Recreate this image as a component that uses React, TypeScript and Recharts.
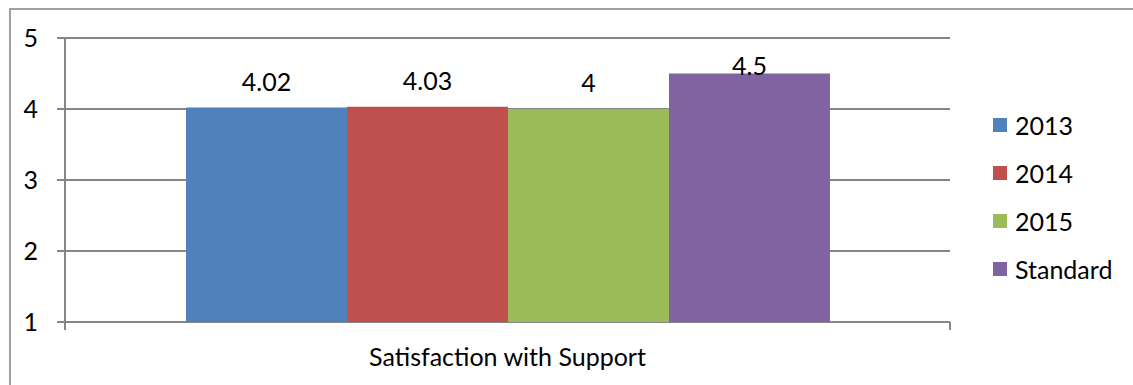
import React from 'react';
import { BarChart, Bar, XAxis, YAxis, CartesianGrid, LabelList } from 'recharts';

const categories = ['Satisfaction with Support'];
const seriesNames = ['2013', '2014', '2015', 'Standard'];
const seriesValues = [[4.02], [4.03], [4], [4.5]];
const seriesColors = ['#4f81bd', '#c0504d', '#9bbb59', '#8064a2'];
const yTicks = [1, 2, 3, 4, 5];

const data = categories.map((name, i) => {
    const row: Record<string, string | number> = { name };
    seriesNames.forEach((s, j) => {
        row[s] = seriesValues[j][i];
    });
    return row;
});

const FONT = 'Lato, "Open Sans", sans-serif';
const FONT_SIZE = 25;
const GRAY = '#868686';
const PLOT_TOP = 38;

// category label plus the short tick marks at both band edges
const CategoryTick = (props: any) => {
    const { x, y, payload } = props;
    const half = payload.offset ?? 0;
    return (
        <g>
            <line x1={x - half} x2={x - half} y1={y} y2={y + 8} stroke={GRAY} strokeWidth={2} />
            <line x1={x + half} x2={x + half} y1={y} y2={y + 8} stroke={GRAY} strokeWidth={2} />
            <text x={x} y={y + 34} textAnchor="middle" dominantBaseline="central" fontSize={FONT_SIZE} fontFamily={FONT} fill="#000">
                {payload.value}
            </text>
        </g>
    );
};

// value labels sit above the bar, but never closer to the plot top than one line
const ValueLabel = (props: any) => {
    const { x, y, width, value } = props;
    const cy = Math.max(y - 27, PLOT_TOP + 27);
    return (
        <text x={x + width / 2} y={cy} textAnchor="middle" dominantBaseline="central" fontSize={FONT_SIZE} fontFamily={FONT} fill="#000">
            {value}
        </text>
    );
};

export default function App() {
    return (
        <div style={{ position: 'absolute', left: 0, top: 0, width: 1133, height: 385, overflow: 'hidden', background: '#fff' }}>
            <div style={{ position: 'absolute', left: 9, top: 8, width: 1200, height: 400, border: '2px solid #a0a0a0' }} />
            <div style={{ position: 'absolute', left: 0, top: 0 }}>
                <BarChart width={1133} height={385} data={data} margin={{ top: PLOT_TOP, right: 183, bottom: 0, left: 0 }} barCategoryGap={121} barGap={0}>
                    <CartesianGrid vertical={false} stroke={GRAY} strokeWidth={2} />
                    <XAxis dataKey="name" height={63} axisLine={false} tickLine={false} tickSize={0} tickMargin={0} tick={<CategoryTick />} />
                    <YAxis
                        domain={[1, 5]}
                        ticks={yTicks}
                        width={65}
                        tickSize={8}
                        tickMargin={19}
                        axisLine={{ stroke: GRAY, strokeWidth: 2 }}
                        tickLine={{ stroke: GRAY, strokeWidth: 2 }}
                        tick={{ fill: '#000', fontSize: FONT_SIZE, fontFamily: FONT }}
                    />
                    {seriesNames.map((s, i) => (
                        <Bar key={s} dataKey={s} fill={seriesColors[i]} isAnimationActive={false}>
                            <LabelList dataKey={s} content={<ValueLabel />} />
                        </Bar>
                    ))}
                </BarChart>
            </div>
            <div style={{ position: 'absolute', left: 993, top: 101, fontFamily: FONT, fontSize: FONT_SIZE, color: '#000' }}>
                {seriesNames.map((s, i) => (
                    <div key={s} style={{ display: 'flex', alignItems: 'center', height: 48 }}>
                        <span style={{ width: 14, height: 14, background: seriesColors[i], marginRight: 8 }} />
                        <span>{s}</span>
                    </div>
                ))}
            </div>
        </div>
    );
}
